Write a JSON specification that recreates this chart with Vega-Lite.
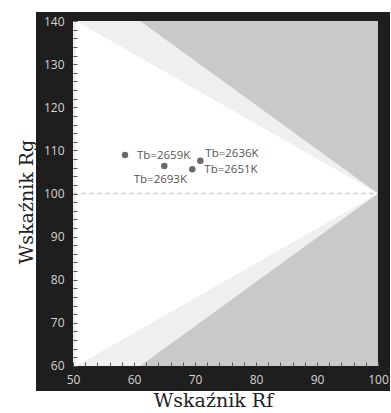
{
  "$schema": "https://vega.github.io/schema/vega-lite/v6.json",
  "autosize": {"type": "none"},
  "padding": {"left": 36, "top": 12, "right": 1, "bottom": 22},
  "width": 354,
  "height": 379,
  "background": "white",
  "config": {
    "view": {"fill": "#1e1e1e", "stroke": null}
  },
  "datasets": {
    "plot": [{"x": 50, "x2": 100, "y": 60, "y2": 140}],
    "light": [
      {"x": 50, "y": 60, "y2": 140},
      {"x": 61, "y": 60, "y2": 140},
      {"x": 100, "y": 100, "y2": 100}
    ],
    "white": [
      {"x": 50.5, "y": 60, "y2": 140},
      {"x": 100, "y": 100, "y2": 100}
    ],
    "ref": [{"x": 50, "x2": 100, "y": 100}],
    "pts": [
      {"Rf": 58.52, "Rg": 108.93, "label": "Tb=2659K", "pos": "right"},
      {"Rf": 64.97, "Rg": 106.38, "label": "Tb=2693K", "pos": "below"},
      {"Rf": 69.56, "Rg": 105.61, "label": "Tb=2651K", "pos": "right"},
      {"Rf": 70.87, "Rg": 107.61, "label": "Tb=2636K", "pos": "upright"}
    ]
  },
  "layer": [
    {
      "data": {"name": "plot"},
      "mark": {"type": "rect", "fill": "#c8c9cb", "stroke": null},
      "encoding": {
        "x": {
          "field": "x", "type": "quantitative",
          "scale": {"domain": [43.93, 101.97], "nice": false, "zero": false},
          "axis": {
            "orient": "bottom",
            "offset": -25,
            "zindex": 1,
            "tickCount": 200,
            "format": "d",
            "values": [50,52,54,56,58,60,62,64,66,68,70,72,74,76,78,80,82,84,86,88,90,92,94,96,98,100],
            "labelExpr": "datum.value % 10 === 0 ? datum.label : ''",
            "labelOverlap": false,
            "labelFlush": false,
            "domain": false,
            "grid": false,
            "tickSize": -4,
            "tickColor": "#555555",
            "tickWidth": 1,
            "labelPadding": 12,
            "labelFont": "Open Sans",
            "labelFontSize": 12,
            "labelColor": "#d4d4d4",
            "title": "Wskaźnik Rf",
            "titleFont": "DejaVu Serif",
            "titleFontSize": 19,
            "titleFontWeight": "normal",
            "titleColor": "#222222",
            "titlePadding": 6
          }
        },
        "x2": {"field": "x2"},
        "y": {
          "field": "y", "type": "quantitative",
          "scale": {"domain": [54.2, 142.09], "nice": false, "zero": false},
          "axis": {
            "orient": "left",
            "offset": -37,
            "zindex": 1,
            "tickCount": 200,
            "format": "d",
            "values": [60,62,64,66,68,70,72,74,76,78,80,82,84,86,88,90,92,94,96,98,100,102,104,106,108,110,112,114,116,118,120,122,124,126,128,130,132,134,136,138,140],
            "labelExpr": "datum.value % 10 === 0 ? datum.label : ''",
            "labelOverlap": false,
            "labelFlush": false,
            "domain": false,
            "grid": false,
            "tickSize": -4,
            "tickColor": "#555555",
            "tickWidth": 1,
            "labelPadding": 13,
            "labelFont": "Open Sans",
            "labelFontSize": 12,
            "labelColor": "#d4d4d4",
            "title": "Wskaźnik Rg",
            "titleFont": "DejaVu Serif",
            "titleFontSize": 19,
            "titleFontWeight": "normal",
            "titleColor": "#222222",
            "titlePadding": 7
          }
        },
        "y2": {"field": "y2"}
      }
    },
    {
      "data": {"name": "light"},
      "mark": {"type": "area", "color": "#efefef", "opacity": 1},
      "encoding": {
        "x": {"field": "x", "type": "quantitative"},
        "y": {"field": "y", "type": "quantitative"},
        "y2": {"field": "y2"}
      }
    },
    {
      "data": {"name": "white"},
      "mark": {"type": "area", "color": "#ffffff", "opacity": 1},
      "encoding": {
        "x": {"field": "x", "type": "quantitative"},
        "y": {"field": "y", "type": "quantitative"},
        "y2": {"field": "y2"}
      }
    },
    {
      "data": {"name": "ref"},
      "mark": {"type": "rule", "color": "#cfcfcf", "strokeWidth": 1.5, "strokeDash": [5, 3]},
      "encoding": {
        "x": {"field": "x", "type": "quantitative"},
        "x2": {"field": "x2"},
        "y": {"field": "y", "type": "quantitative"}
      }
    },
    {
      "data": {"name": "pts"},
      "mark": {"type": "circle", "size": 42, "color": "#6a6a6a", "opacity": 1},
      "encoding": {
        "x": {"field": "Rf", "type": "quantitative"},
        "y": {"field": "Rg", "type": "quantitative"}
      }
    },
    {
      "data": {"name": "pts"},
      "transform": [{"filter": "datum.pos === 'right'"}],
      "mark": {"type": "text", "align": "left", "baseline": "middle", "dx": 12, "dy": 1, "font": "Open Sans", "fontSize": 11.5, "color": "#555555"},
      "encoding": {
        "x": {"field": "Rf", "type": "quantitative"},
        "y": {"field": "Rg", "type": "quantitative"},
        "text": {"field": "label"}
      }
    },
    {
      "data": {"name": "pts"},
      "transform": [{"filter": "datum.pos === 'below'"}],
      "mark": {"type": "text", "align": "center", "baseline": "middle", "dx": -4, "dy": 14, "font": "Open Sans", "fontSize": 11.5, "color": "#555555"},
      "encoding": {
        "x": {"field": "Rf", "type": "quantitative"},
        "y": {"field": "Rg", "type": "quantitative"},
        "text": {"field": "label"}
      }
    },
    {
      "data": {"name": "pts"},
      "transform": [{"filter": "datum.pos === 'upright'"}],
      "mark": {"type": "text", "align": "left", "baseline": "middle", "dx": 5, "dy": -7, "font": "Open Sans", "fontSize": 11.5, "color": "#555555"},
      "encoding": {
        "x": {"field": "Rf", "type": "quantitative"},
        "y": {"field": "Rg", "type": "quantitative"},
        "text": {"field": "label"}
      }
    }
  ]
}
